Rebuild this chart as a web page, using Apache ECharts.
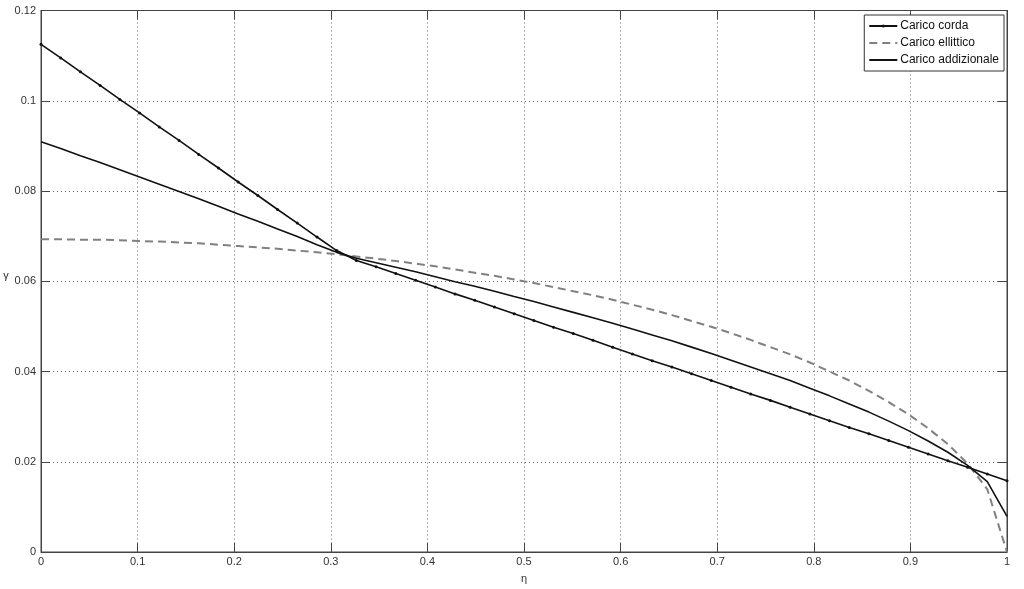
<!DOCTYPE html>
<html>
<head>
<meta charset="utf-8">
<script src="https://cdn.jsdelivr.net/npm/echarts@6/dist/echarts.min.js"></script>
<style>
html,body{margin:0;padding:0;background:#fff;}
#chart{width:1024px;height:589px;}
</style>
</head>
<body>
<div id="chart"></div>
<script>
const eta = [0, 0.0204, 0.0408, 0.0612, 0.0816, 0.1020, 0.1224, 0.1429, 0.1633, 0.1837,
  0.2041, 0.2245, 0.2449, 0.2653, 0.2857, 0.3061, 0.3265, 0.3469, 0.3673, 0.3878,
  0.4082, 0.4286, 0.4490, 0.4694, 0.4898, 0.5102, 0.5306, 0.5510, 0.5714, 0.5918,
  0.6122, 0.6327, 0.6531, 0.6735, 0.6939, 0.7143, 0.7347, 0.7551, 0.7755, 0.7959,
  0.8163, 0.8367, 0.8571, 0.8776, 0.8980, 0.9184, 0.9388, 0.9592, 0.9796, 1];
const caricoCorda = [0.1125, 0.1095, 0.1064, 0.1034, 0.1003, 0.0973, 0.0942, 0.0912, 0.0881, 0.0851,
  0.0820, 0.0790, 0.0759, 0.0729, 0.0698, 0.0668, 0.0646, 0.0632, 0.0617, 0.0602,
  0.0587, 0.0572, 0.0558, 0.0543, 0.0528, 0.0513, 0.0498, 0.0484, 0.0469, 0.0454,
  0.0439, 0.0424, 0.0410, 0.0395, 0.0380, 0.0365, 0.0350, 0.0336, 0.0321, 0.0306,
  0.0291, 0.0276, 0.0262, 0.0247, 0.0232, 0.0217, 0.0202, 0.0188, 0.0173, 0.0158];
const caricoEllittico = [0.0693, 0.0693, 0.0692, 0.0692, 0.0691, 0.0689, 0.0688, 0.0686, 0.0684, 0.0681,
  0.0678, 0.0675, 0.0672, 0.0668, 0.0664, 0.0660, 0.0655, 0.0650, 0.0645, 0.0639,
  0.0633, 0.0626, 0.0619, 0.0612, 0.0604, 0.0596, 0.0587, 0.0578, 0.0569, 0.0559,
  0.0548, 0.0537, 0.0525, 0.0512, 0.0499, 0.0485, 0.0470, 0.0454, 0.0438, 0.0420,
  0.0400, 0.0380, 0.0357, 0.0332, 0.0305, 0.0274, 0.0239, 0.0196, 0.0139, 0];
const caricoAddizionale = [0.0909, 0.0894, 0.0878, 0.0863, 0.0847, 0.0831, 0.0815, 0.0799, 0.0783, 0.0766,
  0.0749, 0.0733, 0.0716, 0.0699, 0.0681, 0.0664, 0.0651, 0.0641, 0.0631, 0.0621,
  0.0610, 0.0599, 0.0589, 0.0578, 0.0566, 0.0555, 0.0543, 0.0531, 0.0519, 0.0507,
  0.0494, 0.0481, 0.0468, 0.0454, 0.0440, 0.0425, 0.0410, 0.0395, 0.0380, 0.0363,
  0.0346, 0.0328, 0.0310, 0.0290, 0.0269, 0.0246, 0.0221, 0.0192, 0.0156, 0.0079];
const seriesNames = ['Carico corda', 'Carico ellittico', 'Carico addizionale'];
const xName = 'η';
const yName = 'γ';

function pairs(ys){ return eta.map((x,i)=>[x, ys[i]]); }

const chart = echarts.init(document.getElementById('chart'), null, {renderer:'canvas'});
const font = 'Liberation Sans, Arial, sans-serif';
const axisColor = '#444';
const tickCommon = {show:true, inside:true, length:9, lineStyle:{color:axisColor, width:1}};
chart.setOption({
  animation:false,
  backgroundColor:'#fff',
  grid:{left:41, right:17, top:10.5, bottom:37, show:true, borderColor:axisColor, borderWidth:1, backgroundColor:'transparent'},
  legend:{
    data:[
      {name:seriesNames[0]},
      {name:seriesNames[1], itemStyle:{opacity:0}},
      {name:seriesNames[2], itemStyle:{opacity:0}}
    ],
    orient:'vertical', right:20, top:15,
    backgroundColor:'#fff', borderColor:'#333', borderWidth:1,
    padding:[4,5,4,4], itemGap:3, itemWidth:28, itemHeight:4,
    textStyle:{fontFamily:font, fontSize:12, color:'#111', padding:[0,0,0,-2], lineHeight:14}
  },
  xAxis:[{
    type:'value', min:0, max:1, interval:0.1, position:'bottom',
    name:xName, nameLocation:'middle', nameGap:21,
    nameTextStyle:{fontFamily:font, fontSize:11, color:'#333'},
    axisLine:{show:true, onZero:false, lineStyle:{color:axisColor, width:1}},
    axisTick:tickCommon,
    axisLabel:{fontFamily:font, fontSize:11, color:'#333', margin:4},
    splitLine:{show:true, lineStyle:{color:'#666', width:1, type:[1,3]}}
  },{
    type:'value', min:0, max:1, interval:0.1, position:'top',
    axisLine:{show:true, onZero:false, lineStyle:{color:axisColor, width:1}},
    axisTick:tickCommon, axisLabel:{show:false}, splitLine:{show:false}
  }],
  yAxis:[{
    type:'value', min:0, max:0.12, interval:0.02, position:'left',
    name:yName, nameLocation:'middle', nameGap:28, nameRotate:0,
    nameTextStyle:{fontFamily:font, fontSize:11, color:'#333', verticalAlign:'bottom'},
    axisLine:{show:true, onZero:false, lineStyle:{color:axisColor, width:1}},
    axisTick:tickCommon,
    axisLabel:{fontFamily:font, fontSize:11, color:'#333', margin:5},
    splitLine:{show:true, lineStyle:{color:'#666', width:1, type:[1,3]}}
  },{
    type:'value', min:0, max:0.12, interval:0.02, position:'right',
    axisLine:{show:true, onZero:false, lineStyle:{color:axisColor, width:1}},
    axisTick:tickCommon, axisLabel:{show:false}, splitLine:{show:false}
  }],
  series:[{
    name:seriesNames[0], type:'line', data:pairs(caricoCorda),
    symbol:'circle', symbolSize:3, showSymbol:true,
    itemStyle:{color:'#111'}, lineStyle:{color:'#111', width:1.6}, z:3
  },{
    name:seriesNames[1], type:'line', data:pairs(caricoEllittico),
    symbol:'none', itemStyle:{color:'#808080'},
    lineStyle:{color:'#808080', width:2, type:[8,5]}, z:2
  },{
    name:seriesNames[2], type:'line', data:pairs(caricoAddizionale),
    symbol:'none', itemStyle:{color:'#111'},
    lineStyle:{color:'#111', width:1.6}, z:4
  }]
});
</script>
</body>
</html>
